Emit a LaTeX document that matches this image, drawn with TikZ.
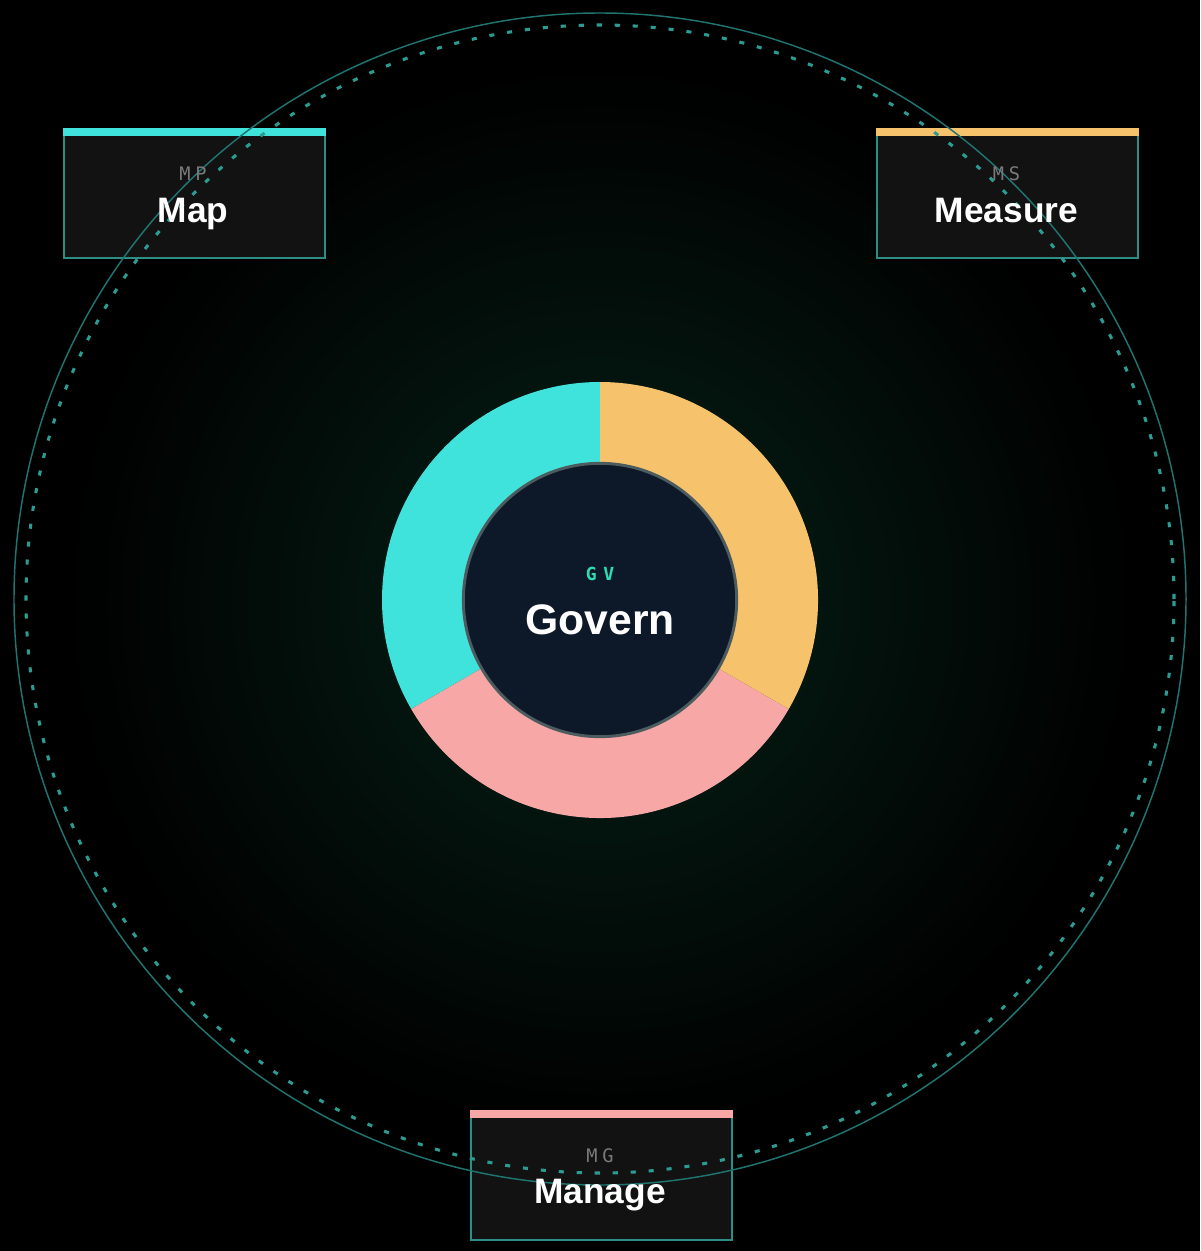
\documentclass[tikz,border=0pt]{standalone}
\usepackage{fontspec}
\setmainfont{Liberation Sans}
\newfontfamily\monof{DejaVu Sans Mono}
\definecolor{bg}{HTML}{000000}
\definecolor{glowc}{HTML}{062219}
\definecolor{ringline}{HTML}{1F7470}
\definecolor{dashline}{HTML}{2A9C92}
\definecolor{boxfill}{HTML}{121212}
\definecolor{boxline}{HTML}{2E8E86}
\definecolor{mapc}{HTML}{40E3DB}
\definecolor{measc}{HTML}{F6C36C}
\definecolor{manc}{HTML}{F7A7A5}
\definecolor{navy}{HTML}{0D1928}
\definecolor{innerline}{HTML}{4C5C5E}
\definecolor{codegray}{HTML}{7A7A7A}
\definecolor{gvc}{HTML}{2FDDB0}
\pgfdeclareradialshading{glow}{\pgfpoint{0bp}{0bp}}{color(0bp)=(glowc); color(10bp)=(glowc!60!black); color(25bp)=(black); color(100bp)=(black)}
\begin{document}
\begin{tikzpicture}[x=0.75pt,y=-0.75pt,
  panel/.style={draw=boxline, line width=1.2pt, fill=boxfill, minimum width=195.75pt, minimum height=96.75pt, inner sep=0pt, anchor=north west},
  code/.style={font=\monof\fontsize{14}{14}\selectfont, text=codegray, anchor=base, inner sep=0pt},
  title/.style={font=\bfseries\fontsize{26.5}{26.5}\selectfont, text=white, anchor=base, inner sep=0pt}]
\useasboundingbox (0,0) rectangle (1200,1251);
\fill[bg] (0,0) rectangle (1200,1251);
\coordinate (C) at (600,599);
\coordinate (D) at (600,600);
\shade[shading=glow] (D) circle[radius=400pt];
% boxes
\node[panel] (mp) at (63,128) {};
\node[panel] (ms) at (876,128) {};
\node[panel] (mg) at (470,1110) {};
\fill[mapc] (mp.north west) rectangle ([yshift=-6pt]mp.north east);
\fill[measc] (ms.north west) rectangle ([yshift=-6pt]ms.north east);
\fill[manc] (mg.north west) rectangle ([yshift=-6pt]mg.north east);
% outer circles
\draw[ringline, line width=1.1pt] (C) circle[radius=439.5pt];
\draw[dashline, line width=2.3pt, dash pattern=on 3.8pt off 9.7pt] (C) circle[radius=430.5pt];
% donut
\fill[mapc] (D) -- ++(90:163.5pt) arc[start angle=90, end angle=210, radius=163.5pt] -- cycle;
\fill[manc] (D) -- ++(210:163.5pt) arc[start angle=210, end angle=330, radius=163.5pt] -- cycle;
\fill[measc] (D) -- ++(-30:163.5pt) arc[start angle=-30, end angle=90, radius=163.5pt] -- cycle;
\node[circle, fill=navy, draw=innerline, line width=2.2pt, minimum size=205pt, inner sep=0pt] (gv) at (D) {};
% texts
\node[code] (mpcode) at (193,180.5) {M\kern3.5pt P};
\node[title] (mpt) at (193,223) {Map};
\node[code] (mscode) at (1006.5,180.5) {M\kern3.5pt S};
\node[title] (mst) at (1006.5,223) {Measure};
\node[code] (mgcode) at (600,1162) {M\kern3.5pt G};
\node[title] (mgt) at (600,1203) {Manage};
\node[code, text=gvc, font=\monof\bfseries\fontsize{13.5}{13.5}\selectfont] (gvcode) at (600,580) {G\kern5pt V};
\node[title, font=\bfseries\fontsize{32}{32}\selectfont] (gvt) at (600,634) {Govern};
\end{tikzpicture}
\end{document}
